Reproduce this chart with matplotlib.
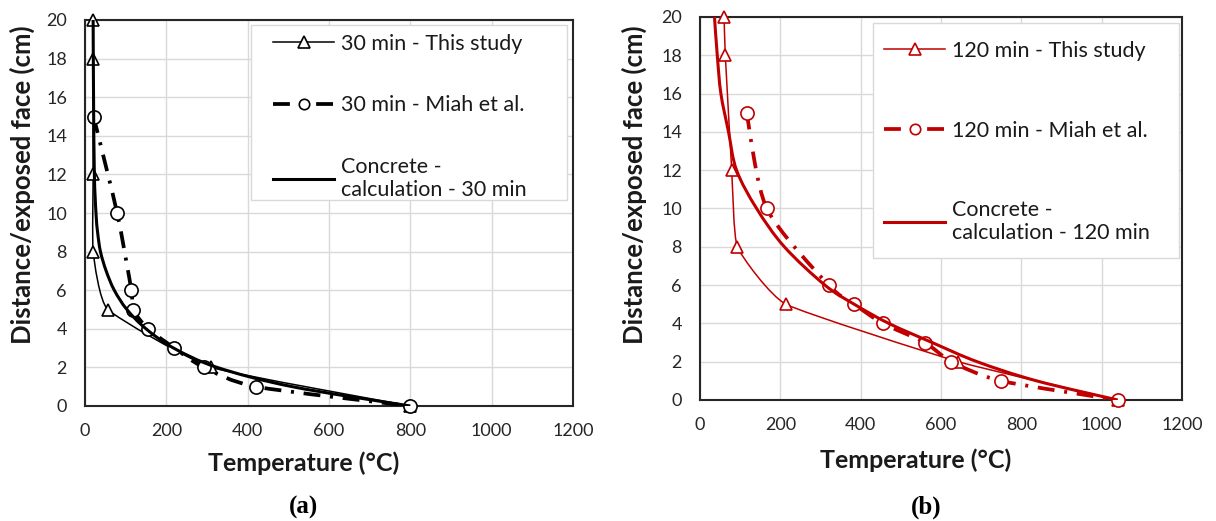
import numpy as np
import matplotlib
matplotlib.use("Agg")
import matplotlib.pyplot as plt
from matplotlib.path import Path
from matplotlib.patches import PathPatch, Rectangle
from matplotlib.lines import Line2D

plt.rcParams['font.family'] = ['Lato', 'DejaVu Sans']

# ---- data ----
# (a) 30 min
study30_temp = [20, 20, 20, 20, 56, 311, 800]
study30_dist = [20, 18, 12, 8, 5, 2, 0]
miah30_temp = [21, 79, 114, 118, 155, 220, 292, 421, 800]
miah30_dist = [15, 10, 6, 5, 4, 3, 2, 1, 0]
calc30_temp = [20, 21, 23, 27, 31, 38, 52, 72, 103, 150, 218, 325, 510, 800]
calc30_dist = [20, 16, 12, 10, 9, 8, 7, 6, 5, 4, 3, 2, 1, 0]

# (b) 120 min
study120_temp = [60, 63, 79, 93, 214, 643, 1040]
study120_dist = [20, 18, 12, 8, 5, 2, 0]
miah120_temp = [116, 166, 320, 384, 455, 560, 626, 749, 1040]
miah120_dist = [15, 10, 6, 5, 4, 3, 2, 1, 0]
calc120_temp = [36, 43, 52, 71, 91, 141, 210, 311, 384, 470, 578, 690, 838, 1040]
calc120_dist = [20, 18, 16, 14, 12, 10, 8, 6, 5, 4, 3, 2, 1, 0]

x_ticks = [0, 200, 400, 600, 800, 1000, 1200]
y_ticks = [0, 2, 4, 6, 8, 10, 12, 14, 16, 18, 20]

RED = '#C00000'
BLACK = '#000000'
W, H = 1216, 521


def smooth_line(ax, xs, ys, k=1 / 6.0, **kw):
    # Excel style smoothed line (Catmull-Rom as cubic Bezier), done in screen-like units
    sx, sy = 490 / 1200.0, 386 / 20.0
    p = np.column_stack([np.asarray(xs, float) * sx, np.asarray(ys, float) * sy])
    n = len(p)
    verts = [p[0]]
    codes = [Path.MOVETO]
    for i in range(n - 1):
        p0 = p[i - 1] if i > 0 else p[i]
        p1, p2 = p[i], p[i + 1]
        p3 = p[i + 2] if i + 2 < n else p[i + 1]
        verts += [p1 + (p2 - p0) * k, p2 - (p3 - p1) * k, p2]
        codes += [Path.CURVE4] * 3
    verts = np.array(verts) / [sx, sy]
    ax.add_patch(PathPatch(Path(verts, codes), fill=False, **kw))


def px(x, y):
    return x / W, 1 - y / H


def make_panel(rect, color, st, sd, mt, md, ct, cd, minutes, frame_box, leg_xy, leg_spacing,
               xlab_pos, ylab_pos, sub_pos, sub_text):
    ax = fig.add_axes(rect)
    ax.set_xlim(0, 1200)
    ax.set_ylim(0, 20)
    ax.set_xticks(x_ticks)
    ax.set_yticks(y_ticks)
    ax.grid(True, color='#D9D9D9', lw=1.0)
    ax.set_axisbelow(True)
    for s in ax.spines.values():
        s.set_color('#262626')
        s.set_linewidth(1.5)
    ax.tick_params(length=0, labelsize=13, colors='#262626')
    ax.tick_params(axis='x', pad=12)
    ax.tick_params(axis='y', pad=13)

    dash = (0, (4.5, 2.6, 0.8, 2.6))
    # This study
    smooth_line(ax, st, sd, k=1 / 14.0, edgecolor=color, lw=1.1, zorder=3)
    ax.plot(st, sd, ls='none', marker='^', ms=9, mfc='white', mec=color, mew=1.2,
            zorder=4, clip_on=False)
    # Miah et al.
    smooth_line(ax, mt, md, k=1 / 8.0, edgecolor=color, lw=2.7, linestyle=dash, zorder=3)
    ax.plot(mt, md, ls='none', marker='o', ms=9.5, mfc='white', mec=color, mew=1.2,
            zorder=4, clip_on=False)
    # calculation
    smooth_line(ax, ct, cd, edgecolor=color, lw=2.2, zorder=5)

    # legend frame drawn separately so its size matches the reference
    x0, y0, x1, y1 = frame_box
    ax.add_patch(Rectangle(px(x0, y1), (x1 - x0) / W, (y1 - y0) / H, transform=fig.transFigure,
                           facecolor='white', edgecolor='#D9D9D9', lw=1.0, clip_on=False,
                           zorder=6))

    handles = [
        Line2D([], [], color=color, lw=1.1, marker='^', ms=9, mfc='white', mec=color, mew=1.2),
        Line2D([], [], color=color, lw=2.7, ls=(0, (4.5, 7.0)), marker='o', ms=7.5,
               mfc='white', mec=color, mew=1.2),
        Line2D([], [], color=color, lw=2.2),
    ]
    labels = ['%d min - This study' % minutes,
              '%d min - Miah et al.' % minutes,
              'Concrete -\ncalculation - %d min' % minutes]
    leg = ax.legend(handles, labels, loc='upper left', bbox_to_anchor=px(*leg_xy),
                    bbox_transform=fig.transFigure, borderaxespad=0, borderpad=0,
                    fontsize=15.5, handlelength=2.85, handletextpad=0.3,
                    labelspacing=leg_spacing, frameon=False, numpoints=1)
    leg.set_zorder(7)
    for t in leg.get_texts():
        t.set_color('#1a1a1a')

    ax.set_xlabel('Temperature (°C)', fontsize=18, fontweight='bold', color='#1a1a1a')
    ax.xaxis.set_label_coords(*px(*xlab_pos), transform=fig.transFigure)
    ax.xaxis.label.set_va('center')
    ax.set_ylabel('Distance/exposed face (cm)', fontsize=18.5, fontweight='bold', color='#1a1a1a')
    ax.yaxis.set_label_coords(*px(*ylab_pos), transform=fig.transFigure)
    ax.yaxis.label.set_va('center')
    fig.text(*px(*sub_pos), sub_text, ha='center', va='center',
             family='Liberation Serif', fontweight='bold', fontsize=18)
    return ax


fig = plt.figure(figsize=(W / 100, H / 100), dpi=100)

make_panel([85 / W, 115 / H, 488 / W, 386 / H], BLACK,
           study30_temp, study30_dist, miah30_temp, miah30_dist, calc30_temp, calc30_dist,
           30, (251, 25, 567, 200), (273, 34), 1.92, (304, 463), (22, 185), (304, 507), '(a)')
make_panel([700 / W, 121 / H, 482 / W, 383 / H], RED,
           study120_temp, study120_dist, miah120_temp, miah120_dist, calc120_temp, calc120_dist,
           120, (873, 23, 1179, 258), (884, 41), 2.77, (916, 460), (634, 185), (926, 507), '(b)')

fig.savefig('out.png', dpi=100)
